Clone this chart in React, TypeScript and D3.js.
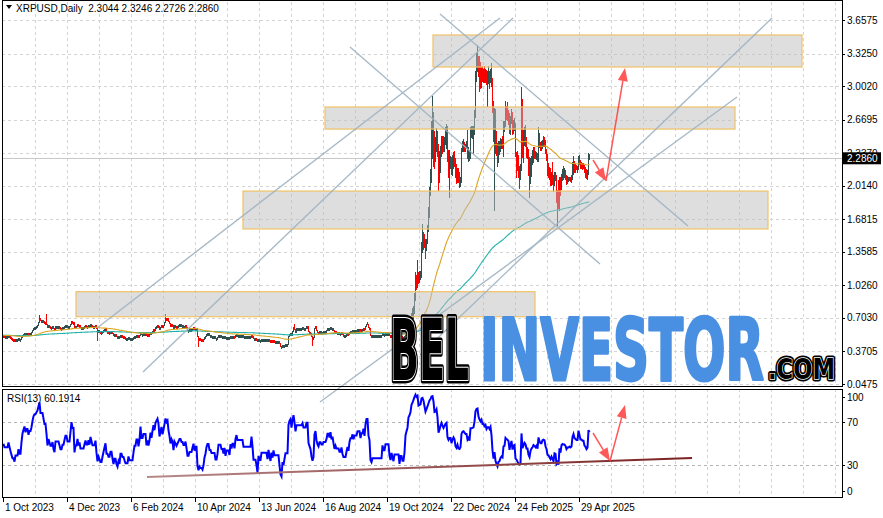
import React from "react";
import * as d3 from "d3";

// ---- daily closes, one array per month ----
const oct2023 = [0.53,0.52,0.52,0.52,0.52,0.53,0.52, 0.51,0.50,0.49,0.49,0.48,0.49,0.49, 0.49,0.50,0.49,0.49,0.51,0.53,0.54, 0.55,0.54,0.55,0.55,0.54,0.55,0.55, 0.56,0.58,0.60];
const nov2023 = [0.61,0.61,0.62,0.63,0.66,0.70,0.68, 0.68,0.68,0.67,0.66,0.66,0.64,0.61, 0.63,0.62,0.61,0.61,0.62,0.60,0.59, 0.62,0.62,0.62,0.62,0.61,0.60,0.60, 0.61,0.61];
const dec2023 = [0.62,0.63,0.63,0.62,0.62,0.62,0.64, 0.67,0.66,0.66,0.60,0.62,0.62,0.64, 0.62,0.63,0.61,0.61,0.61,0.61,0.62, 0.63,0.62,0.62,0.63,0.62,0.64,0.63, 0.62,0.62,0.62];
const jan2024 = [0.63,0.60,0.57,0.58,0.57,0.56,0.56, 0.57,0.58,0.59,0.60,0.57,0.57,0.56, 0.56,0.57,0.57,0.55,0.53,0.54,0.54, 0.52,0.51,0.52,0.51,0.53,0.53,0.52, 0.52,0.51,0.50];
const feb2024 = [0.50,0.50,0.51,0.50,0.50,0.50,0.50, 0.51,0.52,0.52,0.53,0.53,0.52,0.53, 0.56,0.54,0.54,0.55,0.55,0.55,0.53, 0.54,0.53,0.54,0.56,0.55,0.57,0.59, 0.58];
const mar2024 = [0.61,0.62,0.63,0.62,0.59,0.61,0.63, 0.61,0.63,0.66,0.70,0.69,0.70,0.67, 0.65,0.62,0.64,0.63,0.59,0.63,0.62, 0.61,0.62,0.63,0.64,0.64,0.63,0.63, 0.62,0.62,0.63];
const apr2024 = [0.61,0.58,0.58,0.59,0.59,0.59,0.60, 0.61,0.59,0.60,0.60,0.52,0.49,0.50, 0.49,0.49,0.48,0.49,0.51,0.52,0.54, 0.55,0.55,0.53,0.53,0.52,0.52,0.52, 0.52,0.50];
const may2024 = [0.50,0.51,0.53,0.53,0.53,0.52,0.52, 0.51,0.52,0.50,0.51,0.51,0.51,0.50, 0.52,0.51,0.52,0.52,0.51,0.53,0.54, 0.53,0.53,0.53,0.53,0.53,0.53,0.52, 0.52,0.52,0.52];
const jun2024 = [0.52,0.52,0.52,0.52,0.53,0.52,0.50, 0.50,0.50,0.49,0.47,0.49,0.48,0.48, 0.49,0.49,0.49,0.49,0.49,0.49,0.48, 0.49,0.48,0.47,0.48,0.47,0.48,0.47, 0.47,0.47];
const jul2024 = [0.47,0.47,0.45,0.42,0.41,0.43,0.42, 0.43,0.44,0.44,0.44,0.52,0.54,0.55, 0.53,0.57,0.61,0.59,0.56,0.60,0.60, 0.60,0.60,0.60,0.60,0.61,0.60,0.60, 0.60,0.62,0.62];
const aug2024 = [0.57,0.56,0.55,0.52,0.50,0.51,0.60, 0.62,0.58,0.56,0.55,0.57,0.57,0.56, 0.56,0.57,0.57,0.57,0.58,0.60,0.60, 0.59,0.61,0.59,0.60,0.58,0.56,0.57, 0.56,0.56,0.56];
const sep2024 = [0.55,0.55,0.56,0.54,0.53,0.53,0.53, 0.54,0.55,0.54,0.56,0.57,0.57,0.58, 0.57,0.58,0.58,0.58,0.59,0.59,0.59, 0.58,0.59,0.59,0.60,0.59,0.62,0.64, 0.64,0.61];
const oct2024 = [0.60,0.53,0.52,0.53,0.53,0.53,0.53, 0.53,0.53,0.53,0.53,0.53,0.53,0.55, 0.54,0.54,0.55,0.55,0.55,0.55,0.53, 0.52,0.53,0.52,0.51,0.52,0.52,0.52, 0.52,0.52,0.50];
const nov2024 = [0.51,0.51,0.50,0.50,0.51,0.54,0.55, 0.56,0.60,0.61,0.63,0.70,0.73,0.79, 0.90,1.06,1.05,1.13,1.08,1.10,1.12, 1.43,1.48,1.46,1.42,1.38,1.46,1.57, 1.74,1.95];
const dec2024 = [2.10,2.49,2.57,2.50,2.35,2.38,2.51, 2.39,2.09,2.20,2.37,2.48,2.42,2.38, 2.46,2.53,2.57,2.28,2.22,2.27,2.27, 2.16,2.24,2.30,2.26,2.12,2.08,2.14, 2.06,2.05,2.08];
const jan2025 = [2.36,2.42,2.43,2.41,2.39,2.39,2.31, 2.34,2.30,2.55,2.55,2.56,2.57,2.71, 3.11,3.25,3.28,3.17,3.13,3.10,3.16, 3.10,3.11,3.08,3.11,3.06,3.10,3.10, 3.08,3.12,3.03];
const feb2025 = [2.80,2.62,2.72,2.49,2.39,2.30,2.37, 2.38,2.43,2.45,2.43,2.60,2.61,2.76, 2.74,2.73,2.71,2.56,2.65,2.71,2.55, 2.62,2.63,2.32,2.29,2.23,2.17,2.15];
const mar2025 = [2.17,2.77,2.36,2.44,2.52,2.48,2.35, 2.35,2.15,2.07,2.21,2.27,2.30,2.35, 2.33,2.30,2.33,2.27,2.51,2.43,2.39, 2.39,2.45,2.46,2.45,2.35,2.30,2.18, 2.17,2.13,2.09];
const apr2025 = [2.12,2.07,2.03,2.12,2.11,1.90,1.92, 1.86,2.08,1.99,2.12,2.14,2.13,2.13, 2.11,2.06,2.08,2.08,2.09,2.08,2.09, 2.20,2.24,2.20,2.19,2.18,2.18,2.29, 2.25,2.21];
const may2025 = [2.21,2.20,2.20,2.16,2.15,2.13,2.14,2.3044,2.286];

// ---- daily highs / lows for the volatile period (from 1 Nov 2024) ----
const rangeStart = 397;
const highNov2024 = [0.53,0.52,0.52,0.51,0.52,0.55,0.56, 0.57,0.61,0.63,0.66,0.75,0.80,0.82, 0.95,1.15,1.12,1.27,1.15,1.16,1.16, 1.45,1.63,1.55,1.53,1.48,1.48,1.62, 1.80,2.00];
const lowNov2024 = [0.50,0.50,0.49,0.49,0.49,0.50,0.53, 0.54,0.56,0.59,0.60,0.62,0.67,0.70, 0.75,0.88,0.98,1.00,1.04,1.05,1.08, 1.10,1.35,1.38,1.40,1.29,1.37,1.44, 1.56,1.70];
const highDec2024 = [2.17,2.65,2.90,2.74,2.55,2.49,2.58, 2.55,2.42,2.35,2.40,2.50,2.50,2.50, 2.49,2.59,2.62,2.60,2.36,2.36,2.30, 2.29,2.31,2.34,2.35,2.28,2.22,2.18, 2.18,2.15,2.10];
const lowDec2024 = [1.92,2.05,2.28,2.20,2.18,2.25,2.35, 2.30,1.97,2.05,2.15,2.30,2.33,2.35, 2.35,2.42,2.38,2.25,2.10,1.90,2.18, 2.13,2.12,2.18,2.20,2.10,2.04,2.05, 2.05,2.00,2.01];
const highJan2025 = [2.38,2.45,2.47,2.44,2.42,2.45,2.56, 2.39,2.36,2.59,2.60,2.60,2.60,2.76, 3.15,3.34,3.40,3.30,3.30,3.24,3.19, 3.20,3.17,3.20,3.17,3.16,3.15,3.20, 3.15,3.17,3.23];
const lowJan2025 = [2.05,2.35,2.35,2.35,2.35,2.38,2.28, 2.25,2.26,2.28,2.49,2.48,2.33,2.52, 2.69,3.05,3.15,3.10,2.95,2.98,2.99, 3.05,3.04,3.04,3.04,3.02,2.80,3.03, 2.98,3.04,3.00];
const highFeb2025 = [3.08,2.85,2.78,2.77,2.55,2.43,2.45, 2.45,2.48,2.47,2.50,2.65,2.65,2.85, 2.80,2.84,2.76,2.73,2.70,2.77,2.74, 2.66,2.68,2.63,2.34,2.35,2.31,2.20];
const lowFeb2025 = [2.74,2.45,1.77,2.33,2.31,2.20,2.24, 2.32,2.35,2.38,2.38,2.30,2.55,2.60, 2.67,2.66,2.62,2.53,2.52,2.63,2.52, 2.53,2.56,2.30,2.10,2.16,2.10,1.99];
const highMar2025 = [2.22,2.99,2.87,2.56,2.59,2.61,2.49, 2.39,2.37,2.29,2.28,2.30,2.36,2.39, 2.39,2.35,2.34,2.32,2.59,2.53,2.44, 2.45,2.46,2.50,2.49,2.46,2.37,2.32, 2.23,2.19,2.18];
const lowMar2025 = [2.08,2.16,2.29,2.24,2.41,2.40,2.29, 2.28,2.12,1.90,2.04,2.11,2.22,2.24, 2.28,2.28,2.27,2.25,2.25,2.39,2.36, 2.36,2.38,2.40,2.40,2.33,2.26,2.12, 2.10,2.08,2.02];
const highApr2025 = [2.15,2.24,2.12,2.15,2.15,2.12,1.97, 2.07,2.10,2.10,2.13,2.17,2.20,2.18, 2.16,2.12,2.11,2.10,2.10,2.10,2.12, 2.24,2.30,2.25,2.23,2.21,2.20,2.30, 2.31,2.26];
const lowApr2025 = [2.02,2.03,1.96,2.02,2.07,1.85,1.62, 1.79,1.77,1.92,1.98,2.07,2.08,2.10, 2.08,2.03,2.04,2.06,2.07,2.06,2.05, 2.08,2.13,2.15,2.15,2.17,2.15,2.17, 2.22,2.18];
const highMay2025 = [2.24,2.23,2.23,2.21,2.19,2.17,2.16,2.33,2.3246];
const lowMay2025 = [2.18,2.17,2.18,2.15,2.10,2.09,2.08,2.13,2.2726];

// notable wicks before Nov 2024 [day index, price]
const highWicks = [[36, 0.73], [43, 0.74], [162, 0.74], [291, 0.64], [364, 0.66]];
const lowWicks = [[94, 0.48], [195, 0.42], [278, 0.4], [309, 0.43]];

const firstOpen = 0.52;
const closes = [
  ...oct2023, ...nov2023, ...dec2023, ...jan2024, ...feb2024, ...mar2024, ...apr2024,
  ...may2024, ...jun2024, ...jul2024, ...aug2024, ...sep2024, ...oct2024, ...nov2024,
  ...dec2024, ...jan2025, ...feb2025, ...mar2025, ...apr2025, ...may2025,
];
const highs = [...highNov2024, ...highDec2024, ...highJan2025, ...highFeb2025, ...highMar2025, ...highApr2025, ...highMay2025];
const lows = [...lowNov2024, ...lowDec2024, ...lowJan2025, ...lowFeb2025, ...lowMar2025, ...lowApr2025, ...lowMay2025];

const priceTicks = ["3.6575", "3.3250", "3.0020", "2.6695", "2.3370", "2.0140", "1.6815", "1.3585", "1.0260", "0.7030", "0.3705", "0.0475"];
const dateTicks = ["1 Oct 2023", "4 Dec 2023", "6 Feb 2024", "10 Apr 2024", "13 Jun 2024", "16 Aug 2024", "19 Oct 2024", "22 Dec 2024", "24 Feb 2025", "29 Apr 2025"];
const rsiTicks = [100, 70, 30, 0];
const rsiLevels = [70, 30];

// drawn objects, in [day index, price]
const zones = [
  [430, 799, 3.509, 3.191],
  [322, 732, 2.795, 2.576],
  [240, 765, 1.961, 1.585],
  [73, 532, 0.963, 0.715],
];
const trendLines = [
  [[140, 0.166], [510, 3.677]],
  [[94, 0.603], [497, 3.677]],
  [[347, 3.39], [597, 1.238]],
  [[437, 3.717], [685, 1.614]],
  [[317, -0.131], [734, 2.894]],
  [[417, 0.335], [769, 3.677]],
];
const priceArrows = [
  [[590, 2.269], [603, 2.061]],
  [[603, 2.061], [622, 3.181]],
];
const rsiArrows = [
  [[590, 60], [607, 34]],
  [[607, 34], [622, 86]],
];
const rsiSupport = [[144, 19], [689, 36.7]];

const header = "XRPUSD,Daily  2.3044 2.3246 2.2726 2.2860";
const lastPrice = 2.286;
const rsiLabel = "RSI(13) 60.1914";

function ema(data: number[], n: number) {
  const a = 2 / (n + 1);
  const out: number[] = [];
  data.forEach((v, i) => out.push(i === 0 ? v : out[i - 1] + a * (v - out[i - 1])));
  return out;
}
function rsiCalc(data: number[], p: number, seed: number) {
  const out: number[] = [50];
  let ag = seed, al = seed;
  for (let i = 1; i < data.length; i++) {
    const ch = data[i] - data[i - 1];
    const g = Math.max(ch, 0), l = Math.max(-ch, 0);
    ag = (ag * (p - 1) + g) / p;
    al = (al * (p - 1) + l) / p;
    out.push(al === 0 ? 100 : 100 - 100 / (1 + ag / al));
  }
  return out;
}

const FONT = "'Liberation Sans', Arial, sans-serif";

function Arrow({ p1, p2, color }: { p1: number[]; p2: number[]; color: string }) {
  const [x1, y1] = p1, [x2, y2] = p2;
  const a = Math.atan2(y2 - y1, x2 - x1);
  const hl = 13, hw = 5;
  const bx = x2 - hl * Math.cos(a), by = y2 - hl * Math.sin(a);
  const nx = -Math.sin(a), ny = Math.cos(a);
  const tri = `M${x2},${y2}L${bx + hw * nx},${by + hw * ny}L${bx - hw * nx},${by - hw * ny}Z`;
  return (
    <g opacity={0.85}>
      <line x1={x1} y1={y1} x2={bx} y2={by} stroke={color} strokeWidth={1.5} />
      <path d={tri} fill={color} />
    </g>
  );
}

export default function App() {
  const x = d3.scaleLinear().domain([0, 839]).range([3, 842]);
  const yP = d3.scaleLinear().domain([0.0475, 3.6575]).range([384, 20]);
  const yR = d3.scaleLinear().domain([0, 100]).range([497.5, 390]);
  const parse = d3.timeParse("%d %b %Y");
  const start = parse("1 Oct 2023") as Date;

  const hiMap = new Map(highWicks.map((d) => [d[0], d[1]]));
  const loMap = new Map(lowWicks.map((d) => [d[0], d[1]]));
  highs.forEach((h, k) => hiMap.set(rangeStart + k, h));
  lows.forEach((l, k) => loMap.set(rangeStart + k, l));
  const candles = closes.map((c, i) => {
    const o = i ? closes[i - 1] : firstOpen;
    const hi = Math.max(o, c, hiMap.get(i) ?? -Infinity);
    const lo = Math.min(o, c, loMap.get(i) ?? Infinity);
    return { i, o, c, hi, lo };
  });
  const maFast = ema(closes, 70);
  const maSlow = ema(closes, 260);
  const rsi = rsiCalc(closes, 13, 0.006);

  const lineP = d3.line<number>().x((_, i) => x(i) + 0.5).y((d) => yP(d));
  const lineR = d3.line<number>().x((_, i) => x(i) + 0.5).y((d) => yR(d));

  const vGrid = d3.range(32, 840, 32);
  const dateIdx = dateTicks.map((s) => d3.timeDay.count(start, parse(s) as Date));

  return (
    <div style={{ position: "fixed", left: 0, top: 0, width: 883, height: 518, background: "#fff" }}>
      <svg width={883} height={518} style={{ display: "block", fontFamily: FONT }}>
        <defs>
          <clipPath id="mainClip"><rect x={2} y={2} width={840} height={384} /></clipPath>
          <clipPath id="rsiClip"><rect x={2} y={389} width={840} height={108} /></clipPath>
          <linearGradient id="supGrad" x1="0" x2="1">
            <stop offset="0" stopColor="#b88a8a" />
            <stop offset="1" stopColor="#7a2020" />
          </linearGradient>
        </defs>
        <rect x={0} y={0} width={883} height={518} fill="#fff" />
        {/* grids */}
        <g stroke="#d4d4d4" strokeDasharray="3,3" strokeWidth={1} shapeRendering="crispEdges">
          {vGrid.map((d) => (
            <line key={"v" + d} x1={x(d) + 0.5} x2={x(d) + 0.5} y1={2} y2={386} />
          ))}
          {priceTicks.map((t) => (
            <line key={"h" + t} x1={2} x2={842} y1={Math.round(yP(+t)) + 0.5} y2={Math.round(yP(+t)) + 0.5} />
          ))}
          {vGrid.map((d) => (
            <line key={"rv" + d} x1={x(d) + 0.5} x2={x(d) + 0.5} y1={389} y2={497} />
          ))}
        </g>
        <g stroke="#b4b4b4" strokeDasharray="3,3" shapeRendering="crispEdges">
          {rsiLevels.map((l) => (
            <line key={"lv" + l} x1={2} x2={842} y1={Math.round(yR(l)) + 0.5} y2={Math.round(yR(l)) + 0.5} />
          ))}
        </g>
        {/* bid line */}
        <line x1={2} x2={842} y1={Math.round(yP(lastPrice)) + 0.5} y2={Math.round(yP(lastPrice)) + 0.5} stroke="#c8c8c8" />

        <g clipPath="url(#mainClip)">
          {/* candles */}
          <g shapeRendering="crispEdges">
            {candles.map((d) => (
              <rect
                key={d.i}
                x={x(d.i)}
                y={yP(d.hi) - 0.5}
                width={1}
                height={Math.max(3, yP(d.lo) - yP(d.hi) + 1)}
                fill={d.c >= d.o ? "#2f4f4f" : "#ff0000"}
              />
            ))}
          </g>
          <path d={lineP(maSlow) || ""} fill="none" stroke="#20b2aa" strokeWidth={1.1} />
          <path d={lineP(maFast) || ""} fill="none" stroke="#daa520" strokeWidth={1.1} />
          {/* zones */}
          {zones.map((z, k) => (
            <rect
              key={"z" + k}
              x={x(z[0])}
              y={yP(z[2])}
              width={x(z[1]) - x(z[0])}
              height={yP(z[3]) - yP(z[2])}
              fill="#bdbdbd"
              fillOpacity={0.5}
              stroke="#f2c266"
              strokeWidth={1.2}
            />
          ))}
        </g>
        {/* trend lines */}
        <g stroke="#9fb3c2" strokeWidth={1.4} opacity={0.9}>
          {trendLines.map((l, k) => (
            <line key={"t" + k} x1={x(l[0][0])} y1={yP(l[0][1])} x2={x(l[1][0])} y2={yP(l[1][1])} />
          ))}
        </g>
        {priceArrows.map((a, k) => (
          <Arrow key={"pa" + k} p1={[x(a[0][0]), yP(a[0][1])]} p2={[x(a[1][0]), yP(a[1][1])]} color="#ff3b3b" />
        ))}

        {/* RSI */}
        <g clipPath="url(#rsiClip)">
          <path d={lineR(rsi) || ""} fill="none" stroke="#0000ff" strokeWidth={2} strokeLinejoin="miter" />
        </g>
        <line
          x1={x(rsiSupport[0][0])} y1={yR(rsiSupport[0][1])}
          x2={x(rsiSupport[1][0])} y2={yR(rsiSupport[1][1])}
          stroke="url(#supGrad)" strokeWidth={2}
        />
        {rsiArrows.map((a, k) => (
          <Arrow key={"ra" + k} p1={[x(a[0][0]), yR(a[0][1])]} p2={[x(a[1][0]), yR(a[1][1])]} color="#ff3b3b" />
        ))}

        {/* frames */}
        <g fill="none" stroke="#000" strokeWidth={1} shapeRendering="crispEdges">
          <rect x={2.5} y={0.5} width={839.5} height={385.5} />
          <rect x={2.5} y={389.5} width={839.5} height={107.5} />
        </g>

        {/* price axis */}
        <g fontSize={10} fill="#000">
          {priceTicks.map((t) => (
            <g key={"pt" + t}>
              <line x1={842} x2={845} y1={Math.round(yP(+t)) + 0.5} y2={Math.round(yP(+t)) + 0.5} stroke="#000" />
              <text x={847} y={yP(+t)} dominantBaseline="central">{t}</text>
            </g>
          ))}
          <rect x={843} y={yP(lastPrice) - 6} width={38} height={12} fill="#000" />
          <text x={847} y={yP(lastPrice)} dominantBaseline="central" fill="#fff">{lastPrice.toFixed(4)}</text>
          {rsiTicks.map((t) => {
            const yy = t === 100 ? 397 : t === 0 ? 491 : yR(t);
            return (
              <g key={"rt" + t}>
                <line x1={842} x2={845} y1={Math.round(yy) + 0.5} y2={Math.round(yy) + 0.5} stroke="#000" />
                <text x={847} y={yy} dominantBaseline="central">{t}</text>
              </g>
            );
          })}
        </g>
        {/* date axis */}
        <g fontSize={10} fill="#000">
          {dateTicks.map((s, k) => (
            <g key={s}>
              <line x1={x(dateIdx[k]) + 0.5} x2={x(dateIdx[k]) + 0.5} y1={497} y2={502} stroke="#000" />
              <text x={x(dateIdx[k]) + 2} y={511}>{s}</text>
            </g>
          ))}
        </g>

        {/* header */}
        <path d="M6,5 L12,5 L9,9 Z" fill="#000" />
        <text x={16} y={12} fontSize={10} style={{ whiteSpace: "pre" }}>{header}</text>
        <text x={7} y={402} fontSize={10}>{rsiLabel}</text>

        {/* logo */}
        <g fontFamily="'Liberation Sans Narrow', 'DejaVu Sans Condensed', 'Arial Narrow', sans-serif" fontWeight="bold">
          <text x={390} y={380} fontSize={86} textLength={79} lengthAdjust="spacingAndGlyphs" fill="none" stroke="#000" strokeWidth={7} strokeLinejoin="round">BEL</text>
          <text x={390} y={380} fontSize={86} textLength={79} lengthAdjust="spacingAndGlyphs" fill="none" stroke="#fff" strokeWidth={2.2}>BEL</text>
          <text x={390} y={380} fontSize={86} textLength={79} lengthAdjust="spacingAndGlyphs" fill="#000">BEL</text>
          <text x={480} y={380} fontSize={86} textLength={284} lengthAdjust="spacingAndGlyphs" fill="#4a90e2" stroke="#4a90e2" strokeWidth={3} strokeLinejoin="round">INVESTOR</text>
          <text x={768} y={379} fontSize={28} textLength={67} lengthAdjust="spacingAndGlyphs" fill="none" stroke="#000" strokeWidth={5} strokeLinejoin="round">.COM</text>
          <text x={768} y={379} fontSize={28} textLength={67} lengthAdjust="spacingAndGlyphs" fill="none" stroke="#fff" strokeWidth={1.4}>.COM</text>
          <text x={768} y={379} fontSize={28} textLength={67} lengthAdjust="spacingAndGlyphs" fill="#000">.COM</text>
        </g>
      </svg>
    </div>
  );
}
